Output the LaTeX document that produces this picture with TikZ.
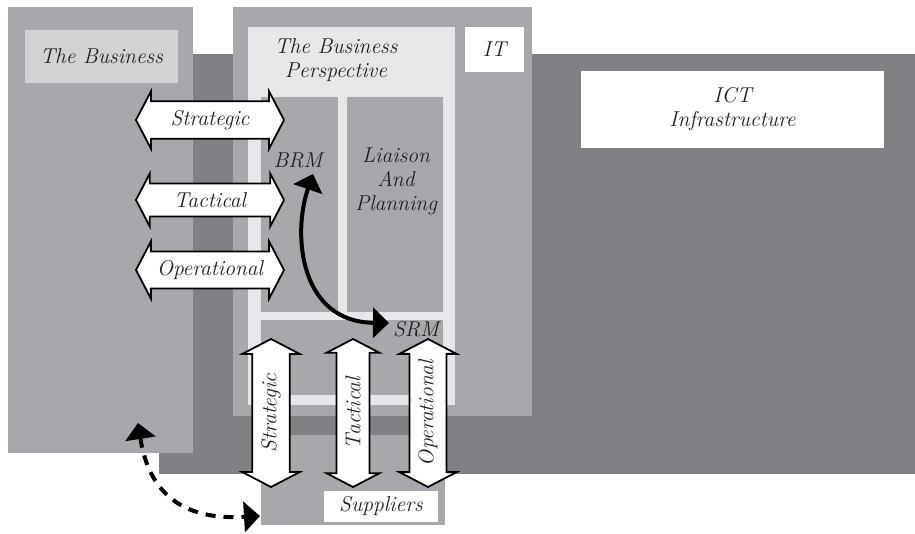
\documentclass[tikz,border=0pt]{standalone}
\usepackage{fontspec}
\usetikzlibrary{shapes.arrows,arrows.meta}
\definecolor{ictgray}{HTML}{808185}
\definecolor{midgray}{HTML}{A7A8AB}
\definecolor{labelgray}{HTML}{D1D2D4}
\definecolor{palegray}{HTML}{E6E7E8}
\definecolor{inkgray}{HTML}{231F20}

\begin{document}
\begin{tikzpicture}[x=1pt,y=-1pt]
    % Define the styles for the areas, texts and arrows
    \tikzstyle{areatext}=[font=\fontsize{21.5}{24}\selectfont\itshape, align=center, inner sep=0pt, text=inkgray]
    \tikzstyle{tagbox}=[areatext, rectangle]
    \tikzstyle{flow}=[areatext, double arrow, draw=black, fill=white, line width=1.8pt, double arrow head extend=10pt, double arrow tip angle=125, minimum height=148pt, inner ysep=8pt, inner xsep=0pt]
    \tikzstyle{link}=[line width=4pt, {Triangle[length=16pt,width=30pt]}-{Triangle[length=16pt,width=30pt]}]

    \useasboundingbox (0,0) rectangle (915,533);

    % Draw the areas
    \fill[ictgray] (159,54) rectangle (915,474);
    \fill[midgray] (8,7) rectangle (193,453);
    \fill[midgray] (233,7) rectangle (532,416);
    \fill[palegray] (248,27) rectangle (455,405);
    \fill[midgray] (261,97) rectangle (338,312);
    \fill[midgray] (347,97) rectangle (443,312);
    \fill[midgray] (261,320) rectangle (443,395);
    \fill[midgray] (261,435) rectangle (445,525);

    % Draw the labels
    \node[tagbox, fill=labelgray, minimum width=153pt, minimum height=53pt] (business) at (101.5,56.5) {The Business};
    \node[areatext] (perspective) at (336,60) {The Business\\Perspective};
    \node[tagbox, fill=white, minimum width=59pt, minimum height=45pt] (it) at (494.5,49.5) {IT};
    \node[tagbox, fill=white, minimum width=303pt, minimum height=77pt] (ict) at (732.5,109.5) {ICT\\Infrastructure};
    \node[areatext] (brm) at (298,160) {BRM};
    \node[areatext] (liaison) at (396,181) {Liaison\\And\\Planning};
    \node[areatext] (srm) at (416,329) {SRM};
    \node[tagbox, fill=white, minimum width=114pt, minimum height=31pt] (suppliers) at (381,506.5) {Suppliers};

    % Draw the flows between the business and IT
    \node[flow] (strategic) at (210,120) {Strategic};
    \node[flow] (tactical) at (210,200) {Tactical};
    \node[flow] (operational) at (210,270) {Operational};

    % Draw the flows between IT and the suppliers
    \node[flow, rotate=90] (supstrategic) at (271,413) {Strategic};
    \node[flow, rotate=90] (suptactical) at (353,413) {Tactical};
    \node[flow, rotate=90] (supoperational) at (428,413) {Operational};

    % Draw the curved links
    \coordinate (brmtip) at (313,174);
    \coordinate (srmtip) at (389,323);
    \coordinate (businesstip) at (138,423);
    \coordinate (supplierstip) at (260,516);
    \draw[link] (brmtip) .. controls (292,235) and (300,322) .. (srmtip);
    \draw[link, dash pattern=on 10pt off 8pt] (businesstip) .. controls (150,500) and (190,520) .. (supplierstip);
\end{tikzpicture}
\end{document}
